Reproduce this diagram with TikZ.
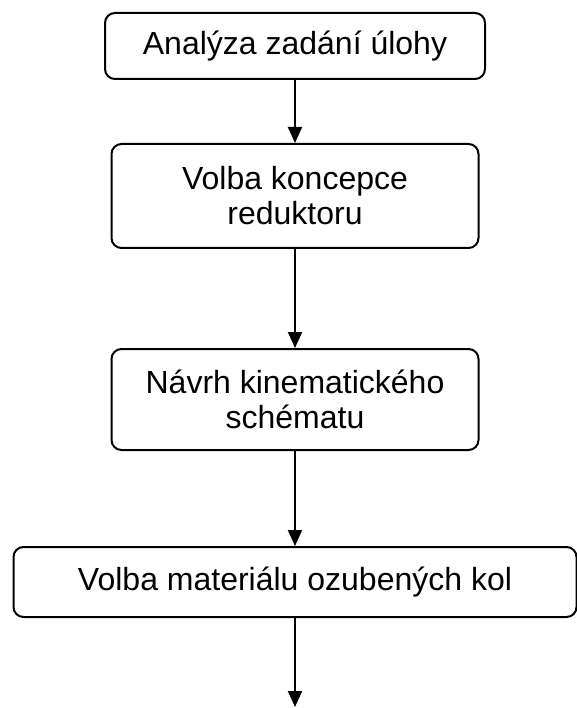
\documentclass[tikz,border=0pt]{standalone}
\usepackage{fontspec}
\setmainfont{Liberation Sans}
\usetikzlibrary{arrows.meta, positioning}

\begin{document}
\begin{tikzpicture}[
    x=1pt, y=1pt,
    stepbox/.style={rectangle, draw=black, line width=2pt,
                rounded corners=10pt, inner sep=0pt,
                align=center, font=\fontsize{32}{35}\selectfont},
    arrow/.style={-{Triangle[length=16pt, width=14pt]}, line width=2pt}
]
\useasboundingbox (0,0) rectangle (576,-708);

\node[stepbox, minimum width=380pt, minimum height=66pt] (analyza) at (295,-46) {Analýza zadání úlohy};
\node[stepbox, minimum width=367pt, minimum height=104pt, below=63pt of analyza] (koncepce) {Volba koncepce\\reduktoru};
\node[stepbox, minimum width=367pt, minimum height=101pt, below=99pt of koncepce] (schema) {Návrh kinematického\\schématu};
\node[stepbox, minimum width=563pt, minimum height=70pt, below=95pt of schema] (material) {Volba materiálu ozubených kol};
\coordinate (dalsi) at (material.center |- 0,-707);

\draw[arrow] (analyza) -- (koncepce);
\draw[arrow] (koncepce) -- (schema);
\draw[arrow] (schema) -- (material);
\draw[arrow] (material) -- (dalsi);

\end{tikzpicture}
\end{document}
